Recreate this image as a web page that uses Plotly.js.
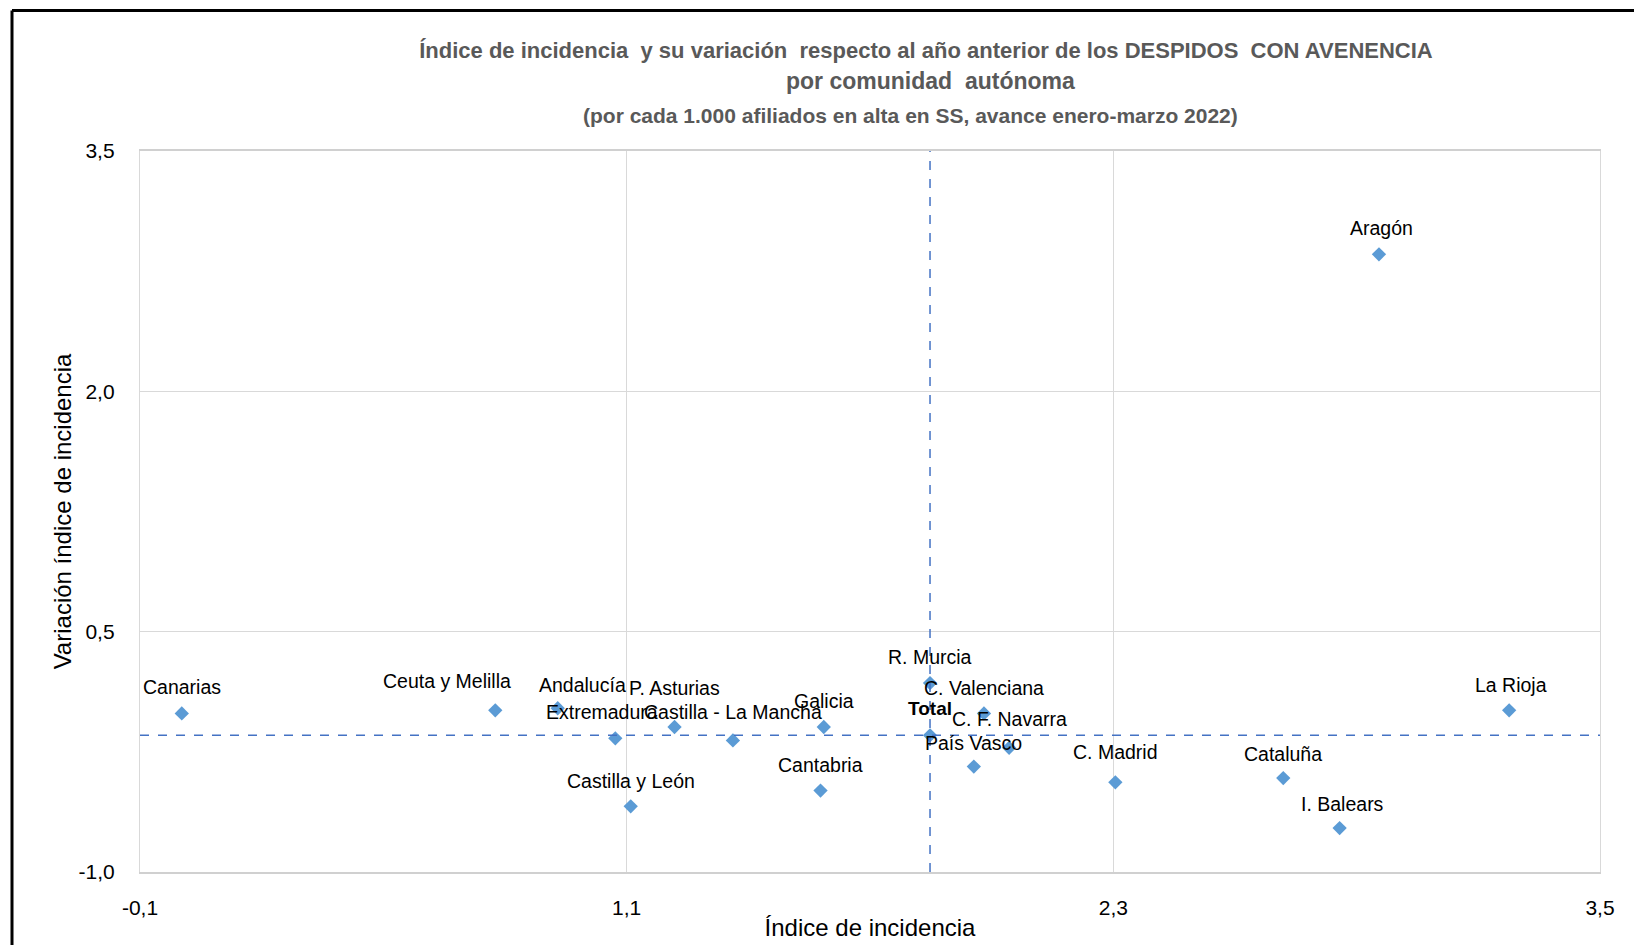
<!DOCTYPE html>
<html>
<head>
<meta charset="utf-8">
<script src="https://cdn.plot.ly/plotly-3.0.1.min.js"></script>
<style>
html,body{margin:0;padding:0;background:#fff;}
#chart{width:1634px;height:945px;}
</style>
</head>
<body>
<div id="chart"></div>
<script>
// ---- data ----
const regions = ["Canarias","Ceuta y Melilla","Andalucía","Extremadura","P. Asturias","Castilla y León","Castilla - La Mancha","Galicia","Cantabria","R. Murcia","C. Valenciana","C. F. Navarra","País Vasco","C. Madrid","Cataluña","I. Balears","La Rioja","Aragón"];
const indice    = [0.003, 0.776, 0.930, 1.072, 1.218, 1.110, 1.362, 1.586, 1.578, 1.848, 1.981, 2.043, 1.956, 2.305, 2.719, 2.858, 3.276, 2.955];
const variacion = [-0.010, 0.009, 0.022, -0.166, -0.095, -0.590, -0.179, -0.095, -0.492, 0.179, -0.010, -0.225, -0.342, -0.440, -0.414, -0.726, 0.009, 2.855];
const totalLabel = "Total";
const totalIndice = 1.848;
const totalVariacion = -0.147;
const xTicks = [-0.1, 1.1, 2.3, 3.5];
const xTickText = ["-0,1", "1,1", "2,3", "3,5"];
const yTicks = [-1.0, 0.5, 2.0, 3.5];
const yTickText = ["-1,0", "0,5", "2,0", "3,5"];

// label offsets in px (x, y) — positioning only
const labelDx = [0, -48, 25, -13, 0, 0, 0, 0, 0, 0, 0, 0, 0, 0, 0, 3, 2, 3];
const labelDy = [26, 29, 23, 26, 39, 25, 28, 26, 26, 26, 25, 29, 24, 30, 24, 24, 25, 26];

const FONT = "Liberation Sans, Arial, sans-serif";
const annotations = regions.map((r, i) => ({
  x: indice[i], y: variacion[i], xref: "x", yref: "y",
  text: r, showarrow: false, xshift: labelDx[i], yshift: labelDy[i],
  xanchor: "center", yanchor: "middle",
  font: {family: FONT, size: 19.5, color: "#000"}
}));
annotations.push({
  x: totalIndice, y: totalVariacion, xref: "x", yref: "y",
  text: "<b>" + totalLabel + "</b>", showarrow: false, xshift: 0, yshift: 27,
  xanchor: "center", yanchor: "middle",
  font: {family: FONT, size: 19, color: "#000"}
});
annotations.push({
  xref: "paper", yref: "paper", x: (930-140)/1460, y: 1 + (151-81)/721,
  text: "<b>por comunidad  autónoma</b>", showarrow: false, xanchor: "center", yanchor: "middle",
  font: {family: FONT, size: 23, color: "#595959"}
});
annotations.push({
  xref: "paper", yref: "paper", x: (910-140)/1460, y: 1 + (151-115)/721,
  text: "<b>(por cada 1.000 afiliados en alta en SS, avance enero-marzo 2022)</b>", showarrow: false, xanchor: "center", yanchor: "middle",
  font: {family: FONT, size: 21, color: "#595959"}
});

const traces = [{
  type: "scatter", mode: "markers",
  x: indice.concat([totalIndice]), y: variacion.concat([totalVariacion]),
  marker: {symbol: "diamond", size: 11, color: "#5b9bd5"},
  hoverinfo: "x+y", showlegend: false
}];

const shapes = [
  {type: "line", xref: "x", yref: "paper", x0: totalIndice, x1: totalIndice, y0: 0, y1: 1,
   line: {color: "#4472c4", width: 1.5, dash: "dash"}},
  {type: "line", xref: "paper", yref: "y", x0: 0, x1: 1, y0: totalVariacion, y1: totalVariacion,
   line: {color: "#4472c4", width: 1.5, dash: "dash"}},
  // outer frame (top and left edges)
  {type: "line", xref: "paper", yref: "paper", x0: (12-140)/1460, x1: 1.1, y0: 1+(151-10.5)/721, y1: 1+(151-10.5)/721,
   line: {color: "#000", width: 3}},
  {type: "line", xref: "paper", yref: "paper", x0: (12-140)/1460, x1: (12-140)/1460, y0: 1+(151-10.5)/721, y1: -0.2,
   line: {color: "#000", width: 3}}
];

const layout = {
  width: 1634, height: 945,
  margin: {l: 140, r: 34, t: 151, b: 73},
  paper_bgcolor: "#fff", plot_bgcolor: "#fff",
  separators: ",.",
  showlegend: false,
  title: {
    text: "<b>Índice de incidencia  y su variación  respecto al año anterior de los DESPIDOS  CON AVENENCIA</b>",
    x: 926/1634, xanchor: "center", xref: "container",
    y: 1 - 50/945, yanchor: "middle", yref: "container",
    font: {family: FONT, size: 22, color: "#595959"}
  },
  xaxis: {
    range: [-0.1, 3.5], tickvals: xTicks, ticktext: xTickText,
    showgrid: true, gridcolor: "#d9d9d9", gridwidth: 1.3,
    zeroline: false, showline: true, linecolor: "#d0d0d0", linewidth: 1.5, mirror: true,
    ticks: "", ticklabelstandoff: 16,
    tickfont: {family: FONT, size: 21, color: "#000"},
    title: {text: "Índice de incidencia", standoff: 1, font: {family: FONT, size: 24, color: "#000"}},
    automargin: false
  },
  yaxis: {
    range: [-1.0, 3.5], tickvals: yTicks, ticktext: yTickText,
    showgrid: true, gridcolor: "#d9d9d9", gridwidth: 1.3,
    zeroline: false, showline: true, linecolor: "#d9d9d9", linewidth: 1.3, mirror: true,
    ticks: "", ticklabelstandoff: 20,
    tickfont: {family: FONT, size: 21, color: "#000"},
    title: {text: "Variación índice de incidencia", standoff: 0, font: {family: FONT, size: 24, color: "#000"}},
    automargin: false
  },
  annotations: annotations,
  shapes: shapes
};

Plotly.newPlot("chart", traces, layout, {displayModeBar: false, staticPlot: false});
</script>
</body>
</html>
